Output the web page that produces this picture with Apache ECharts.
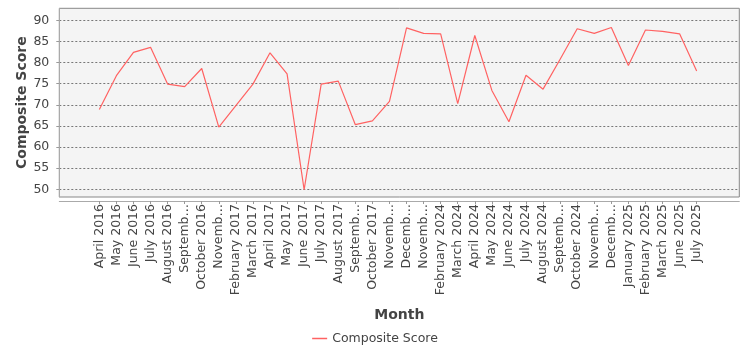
<!DOCTYPE html>
<html>
<head>
<meta charset="utf-8">
<script src="https://cdn.jsdelivr.net/npm/echarts@6/dist/echarts.min.js"></script>
<style>
  html, body { margin: 0; padding: 0; background: #ffffff; }
  #chart { width: 750px; height: 350px; }
</style>
</head>
<body>
<div id="chart"></div>
<script>
// Month labels as shown on the category axis (long names are clipped)
const months = [
  'April 2016', 'May 2016', 'June 2016', 'July 2016', 'August 2016', 'Septemb\u2026',
  'October 2016', 'Novemb\u2026', 'February 2017', 'March 2017', 'April 2017', 'May 2017',
  'June 2017', 'July 2017', 'August 2017', 'Septemb\u2026', 'October 2017', 'Novemb\u2026',
  'Decemb\u2026', 'Novemb\u2026', 'February 2024', 'March 2024', 'April 2024', 'May 2024',
  'June 2024', 'July 2024', 'August 2024', 'Septemb\u2026', 'October 2024', 'Novemb\u2026',
  'Decemb\u2026', 'January 2025', 'February 2025', 'March 2025', 'June 2025', 'July 2025'
];

// Composite score per month
const compositeScore = [
  68.9, 76.9, 82.4, 83.6, 74.9, 74.3,
  78.6, 64.7, 69.8, 74.9, 82.3, 77.3,
  49.9, 74.9, 75.6, 65.3, 66.2, 70.8,
  88.2, 86.9, 86.8, 70.3, 86.4, 73.4,
  66.0, 77.0, 73.7, 80.8, 88.0, 86.9,
  88.3, 79.3, 87.7, 87.4, 86.8, 78.0
];

// Value axis tick labels
const scoreTicks = [50, 55, 60, 65, 70, 75, 80, 85, 90];

const FONT = 'DejaVu Sans';
const yMin = 48.18;
const yMax = 92.84;

const chart = echarts.init(document.getElementById('chart'), null, { renderer: 'canvas' });

chart.setOption({
  animation: false,
  textStyle: { fontFamily: FONT },
  grid: [
    // data area (category bands inset from the plot edges)
    { left: 90.8, right: 44.8, top: 8.3, bottom: 153 },
    // plot frame
    {
      left: 59.3, right: 10.7, top: 8.3, bottom: 153,
      show: true, backgroundColor: '#f4f4f4', borderColor: '#888888', borderWidth: 1
    }
  ],
  xAxis: [
    {
      type: 'category',
      gridIndex: 0,
      data: months,
      boundaryGap: true,
      offset: 4,
      axisLine: { show: false },
      axisTick: { show: true, alignWithLabel: true, length: 3, lineStyle: { color: '#999999' } },
      axisLabel: {
        rotate: 90, margin: 3, interval: 0,
        fontSize: 12.5, color: '#444444', fontFamily: FONT
      },
      splitLine: { show: false }
    },
    {
      type: 'value',
      gridIndex: 1,
      min: 0, max: 1,
      offset: 4,
      axisLine: { show: true, lineStyle: { color: '#aaaaaa', width: 1 } },
      axisTick: { show: false },
      axisLabel: { show: false },
      splitLine: { show: false },
      name: 'Month',
      nameLocation: 'middle',
      nameGap: 107,
      nameMoveOverlap: false,
      nameTextStyle: { fontSize: 14, fontWeight: 'bold', color: '#444444', fontFamily: FONT }
    }
  ],
  yAxis: [
    {
      type: 'value',
      gridIndex: 0,
      min: yMin, max: yMax,
      show: false,
      splitLine: { show: false }
    },
    {
      type: 'value',
      gridIndex: 1,
      min: yMin, max: yMax,
      offset: 4,
      axisLine: { show: true, lineStyle: { color: '#aaaaaa', width: 1 } },
      axisTick: { show: true, length: 3, customValues: scoreTicks, lineStyle: { color: '#999999' } },
      axisLabel: {
        customValues: scoreTicks, margin: 6,
        fontSize: 12.5, color: '#444444', fontFamily: FONT
      },
      splitLine: {
        show: true,
        lineStyle: { color: '#777777', type: [2, 2], width: 1 }
      },
      name: 'Composite Score',
      nameLocation: 'middle',
      nameGap: 26,
      nameRotate: 90,
      nameMoveOverlap: false,
      nameTextStyle: { fontSize: 14, fontWeight: 'bold', color: '#444444', fontFamily: FONT }
    }
  ],
  legend: {
    left: 'center',
    top: 327,
    icon: 'rect',
    itemWidth: 15,
    itemHeight: 1.5,
    itemGap: 10,
    textStyle: { fontSize: 12.5, color: '#444444', fontFamily: FONT },
    data: ['Composite Score']
  },
  series: [
    {
      name: 'Composite Score',
      type: 'line',
      xAxisIndex: 0,
      yAxisIndex: 0,
      data: compositeScore,
      symbol: 'none',
      smooth: false,
      color: '#ff6262',
      lineStyle: { color: '#ff6262', width: 1.2 },
      z: 3
    }
  ]
});
</script>
</body>
</html>
